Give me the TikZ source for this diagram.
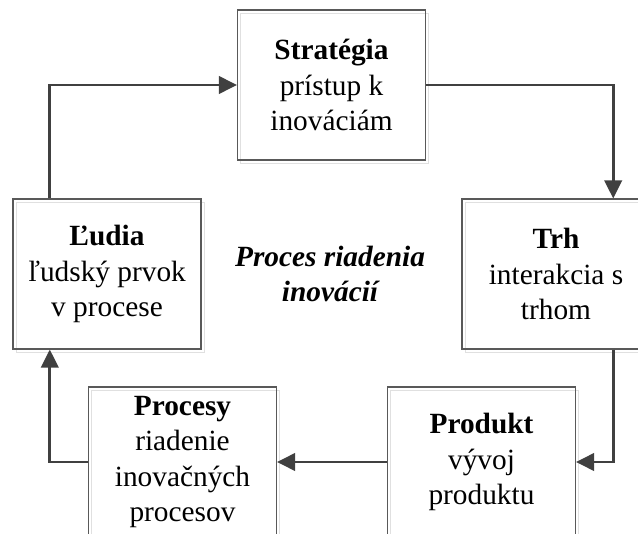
\documentclass[tikz,border=0pt]{standalone}
\usepackage{fontspec}
\setmainfont{Liberation Serif}
\usetikzlibrary{shadows}
\tikzset{
	box/.style = {draw=black!65, line width=0.8pt, minimum width=141pt, minimum height=112.5pt,
		align=center, inner sep=2pt, font=\fontsize{22}{26.5}\selectfont,
		copy shadow={shadow xshift=2.5pt, shadow yshift=-2.5pt, draw=black!12, fill=none}},
	flow/.style = {-{Triangle[length=13.5pt, width=13pt]}, line width=2.1pt, draw=black!75}
}
\usetikzlibrary{arrows.meta}

\begin{document}
\begin{tikzpicture}[x=0.75pt, y=-0.75pt]
	\useasboundingbox (0,0) rectangle (638,534);
	\clip (0,0) rectangle (638,534);
	% ====== Boxes ========
	\node[box] (strat) at (331.5,85) {\textbf{Stratégia}\\prístup k\\inováciám};
	\node[box] (trh) at (556,274) {\textbf{Trh}\\interakcia s\\trhom};
	\node[box] (produkt) at (481.5,462) {\textbf{Produkt}\\vývoj\\produktu};
	\node[box] (procesy) at (182.5,462) {\textbf{Procesy}\\riadenie\\inovačných\\procesov};
	\node[box] (ludia) at (107,274) {\textbf{Ľudia}\\ľudský prvok\\v procese};
	\node[align=center, font=\fontsize{22}{26.5}\selectfont\bfseries\itshape] (title) at (330,274) {Proces riadenia\\inovácií};
	% ====== Cycle ========
	\draw[flow] ([xshift=28pt]ludia.north west) |- (strat.west);
	\draw[flow] (strat.east) -| ([xshift=-28pt]trh.north east);
	\draw[flow] ([xshift=-28pt]trh.south east) |- (produkt.east);
	\draw[flow] (produkt.west) -- (procesy.east);
	\draw[flow] (procesy.west) -| ([xshift=28pt]ludia.south west);
\end{tikzpicture}
\end{document}
